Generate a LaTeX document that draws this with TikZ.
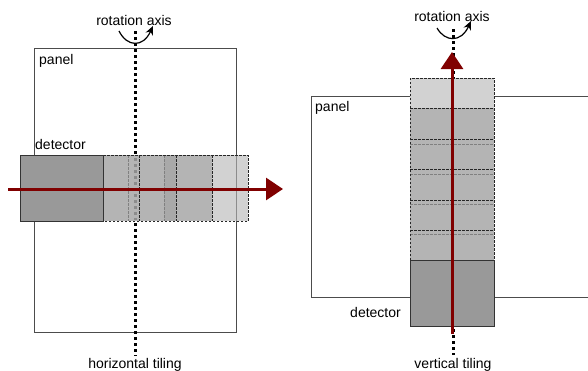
\documentclass[tikz,border=0pt]{standalone}
\usepackage{fontspec}
\setmainfont{Liberation Sans}
\usetikzlibrary{arrows.meta}

\definecolor{detgray}{HTML}{999999}
\definecolor{tilegray}{HTML}{B4B4B4}
\definecolor{tilelight}{HTML}{D2D2D2}
\definecolor{tileover}{HTML}{A9A9A9}
\definecolor{sweepred}{HTML}{800000}

\begin{document}
\begin{tikzpicture}[x=1pt,y=-1pt,
  lbl/.style={font=\fontsize{14}{16}\selectfont, inner sep=0pt},
  panelbox/.style={draw=black!70, line width=0.9pt},
  detbox/.style={draw=black!80, line width=1pt, fill=detgray},
  axisline/.style={line width=3pt, dash pattern=on 3pt off 3pt},
  axisghost/.style={axisline, draw=black!45},
  tileedge/.style={draw=black!85, line width=0.8pt, dash pattern=on 2.5pt off 1.5pt},
  tileshadow/.style={draw=black!50, line width=0.8pt, dash pattern=on 2.5pt off 1.5pt},
  sweep/.style={draw=sweepred, line width=3pt, -{Triangle[length=17pt, width=22pt]}},
  rotarrow/.style={line width=1.2pt, -{Stealth[length=9pt, width=8pt]}}
]
\useasboundingbox (0,0) rectangle (588,370);

%% ---------- horizontal tiling ----------
\draw[panelbox] (34,48) rectangle (236,332);
\node[lbl, anchor=base west] (lpanel) at (39,64) {panel};

% rotation axis
\coordinate (la1) at (135,31);
\coordinate (la2) at (135,356);
\draw[axisline] (la1) -- (la2);
\node[lbl, anchor=base] (lrot) at (134,25) {rotation axis};
\coordinate (lr1) at (119,31);
\coordinate (lr2) at (153,26);
\draw[rotarrow] (lr1) .. controls (127,47) and (143,48) .. (lr2);
\node[lbl, anchor=base] (lcap) at (135,368) {horizontal tiling};

% tiles shifted along x
\fill[tilegray] (103,155) rectangle (248,221);
\fill[tileover] (164,155) rectangle (176,221);
\fill[tilelight] (212,155) rectangle (248,221);
\draw[axisghost] (135,158) -- (135,220);
\draw[black!45, line width=0.9pt] (236,155) -- (236,221);
\draw[tileshadow] (128,155) -- (128,221);
\draw[tileshadow] (164,155) -- (164,221);
\draw[tileedge] (139,155) -- (139,221);
\draw[tileedge] (176,155) -- (176,221);
\draw[tileedge] (212,155) -- (212,221);
\draw[tileedge] (103,155) -- (248,155) -- (248,221) -- (103,221);

% detector
\draw[detbox] (20,155) rectangle (103,221);
\node[lbl, anchor=base west] (ldet) at (35,149) {detector};

% sweep direction
\coordinate (hs) at (8,189);
\coordinate (he) at (283,189);
\draw[sweep] (hs) -- (he);

%% ---------- vertical tiling ----------
\draw[panelbox] (588,96) -- (311,96) -- (311,297) -- (588,297);
\node[lbl, anchor=base west] (rpanel) at (315,111) {panel};

% rotation axis
\coordinate (ra1) at (453,29);
\coordinate (ra2) at (453,355);
\draw[axisline] (ra1) -- (ra2);
\node[lbl, anchor=base] (rrot) at (452,21) {rotation axis};
\coordinate (rr1) at (437,28);
\coordinate (rr2) at (471,21);
\draw[rotarrow] (rr1) .. controls (445,42) and (461,43) .. (rr2);
\node[lbl, anchor=base] (rcap) at (453,368) {vertical tiling};

% tiles shifted along y
\fill[tilegray] (410,78) rectangle (494,260);
\fill[tilelight] (410,78) rectangle (494,108);
\foreach \y in {144,174,204,234}
  \draw[tileshadow] (410,\y) -- (494,\y);
\foreach \y in {108,139,169,200,230}
  \draw[tileedge] (410,\y) -- (494,\y);
\draw[tileedge] (410,260) -- (410,78) -- (494,78) -- (494,260);

% detector
\draw[detbox] (410,260) rectangle (494,326);
\node[lbl, anchor=base east] (rdet) at (401,317) {detector};

% sweep direction
\coordinate (vs) at (452,334);
\coordinate (ve) at (452,52);
\draw[sweep] (vs) -- (ve);
\end{tikzpicture}
\end{document}
